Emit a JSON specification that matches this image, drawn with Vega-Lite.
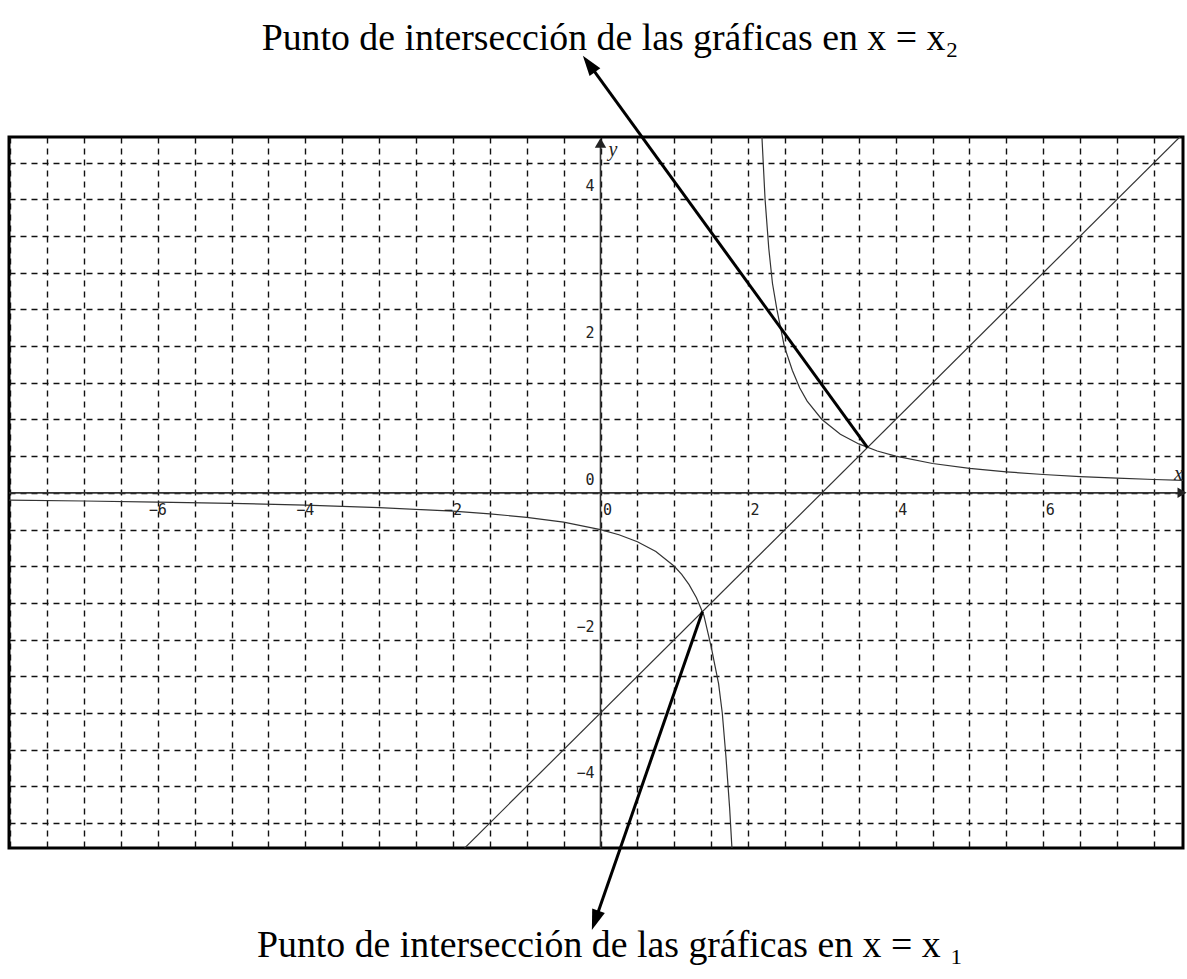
{
  "$schema": "https://vega.github.io/schema/vega-lite/v6.json",
  "width": 1174,
  "height": 711,
  "autosize": {"type": "none"},
  "padding": {"left": 9, "top": 137, "right": 4, "bottom": 131},
  "background": "white",
  "config": {"view": {"stroke": "black", "strokeWidth": 3}},
  "datasets": {
    "line": [{"x": -1.85, "y": -4.85}, {"x": 7.9, "y": 4.9}],
    "hyp": [
      {"branch": "L", "x": -8.02, "y": -0.0998},
      {"branch": "L", "x": -7, "y": -0.111},
      {"branch": "L", "x": -6, "y": -0.125},
      {"branch": "L", "x": -5, "y": -0.143},
      {"branch": "L", "x": -4, "y": -0.167},
      {"branch": "L", "x": -3, "y": -0.2},
      {"branch": "L", "x": -2, "y": -0.25},
      {"branch": "L", "x": -1.5, "y": -0.286},
      {"branch": "L", "x": -1, "y": -0.333},
      {"branch": "L", "x": -0.5, "y": -0.4},
      {"branch": "L", "x": 0, "y": -0.5},
      {"branch": "L", "x": 0.25, "y": -0.571},
      {"branch": "L", "x": 0.5, "y": -0.667},
      {"branch": "L", "x": 0.75, "y": -0.8},
      {"branch": "L", "x": 1, "y": -1},
      {"branch": "L", "x": 1.1, "y": -1.111},
      {"branch": "L", "x": 1.2, "y": -1.25},
      {"branch": "L", "x": 1.3, "y": -1.429},
      {"branch": "L", "x": 1.4, "y": -1.667},
      {"branch": "L", "x": 1.5, "y": -2.1},
      {"branch": "L", "x": 1.55, "y": -2.35},
      {"branch": "L", "x": 1.6, "y": -2.6},
      {"branch": "L", "x": 1.65, "y": -3.0},
      {"branch": "L", "x": 1.7, "y": -3.6},
      {"branch": "L", "x": 1.75, "y": -4.3},
      {"branch": "L", "x": 1.79, "y": -5.0},
      {"branch": "R", "x": 2.18, "y": 5},
      {"branch": "R", "x": 2.23, "y": 4},
      {"branch": "R", "x": 2.28, "y": 3.333},
      {"branch": "R", "x": 2.33, "y": 2.857},
      {"branch": "R", "x": 2.39, "y": 2.5},
      {"branch": "R", "x": 2.49, "y": 2},
      {"branch": "R", "x": 2.6, "y": 1.667},
      {"branch": "R", "x": 2.7, "y": 1.429},
      {"branch": "R", "x": 2.8, "y": 1.25},
      {"branch": "R", "x": 3, "y": 1},
      {"branch": "R", "x": 3.25, "y": 0.8},
      {"branch": "R", "x": 3.5, "y": 0.667},
      {"branch": "R", "x": 3.75, "y": 0.571},
      {"branch": "R", "x": 4, "y": 0.5},
      {"branch": "R", "x": 4.5, "y": 0.4},
      {"branch": "R", "x": 5, "y": 0.333},
      {"branch": "R", "x": 5.5, "y": 0.286},
      {"branch": "R", "x": 6, "y": 0.25},
      {"branch": "R", "x": 6.5, "y": 0.222},
      {"branch": "R", "x": 7, "y": 0.2},
      {"branch": "R", "x": 7.5, "y": 0.182},
      {"branch": "R", "x": 7.95, "y": 0.168}
    ],
    "xaxis": [{"x": -8.015, "x2": 7.86, "y": 0}],
    "yaxis": [{"x": 0, "y": -4.84, "y2": 4.76}],
    "xhead": [{"x": 7.88, "y": 0}],
    "yhead": [{"x": 0, "y": 4.77}],
    "xlabels": [
      {"x": -6, "y": 0, "label": "−6"},
      {"x": -4, "y": 0, "label": "−4"},
      {"x": -2, "y": 0, "label": "−2"},
      {"x": 0, "y": 0, "label": "0"},
      {"x": 2, "y": 0, "label": "2"},
      {"x": 4, "y": 0, "label": "4"},
      {"x": 6, "y": 0, "label": "6"}
    ],
    "ylabels": [
      {"x": 0, "y": -4, "label": "−4"},
      {"x": 0, "y": -2, "label": "−2"},
      {"x": 0, "y": 0, "label": "0"},
      {"x": 0, "y": 2, "label": "2"},
      {"x": 0, "y": 4, "label": "4"}
    ],
    "names": [
      {"x": 7.83, "y": 0.26, "label": "x"},
      {"x": 0.17, "y": 4.67, "label": "y"}
    ],
    "arrows": [
      {"x": 3.618, "y": 0.618, "x2": -0.157, "y2": 5.846},
      {"x": 1.382, "y": -1.618, "x2": -0.072, "y2": -5.827}
    ],
    "headTop": [{"x": -0.157, "y": 5.846}],
    "headBottom": [{"x": -0.072, "y": -5.827}],
    "titles": [
      {"x": 0.13, "y": 6.03, "label": "Punto de intersección de las gráficas en x = x₂"},
      {"x": 0.13, "y": -6.32, "label": "Punto de intersección de las gráficas en x = x ₁"}
    ]
  },
  "encoding": {
    "x": {
      "field": "x", "type": "quantitative",
      "scale": {"domain": [-8.015, 7.893], "nice": false, "zero": false},
      "axis": {
        "values": [-8, -7.5, -7, -6.5, -6, -5.5, -5, -4.5, -4, -3.5, -3, -2.5, -2, -1.5, -1, -0.5, 0, 0.5, 1, 1.5, 2, 2.5, 3, 3.5, 4, 4.5, 5, 5.5, 6, 6.5, 7, 7.5],
        "grid": true, "gridDash": [6, 5], "gridColor": "#111", "gridWidth": 1.4, "gridOpacity": 1,
        "labels": false, "ticks": false, "domain": false, "title": null
      }
    },
    "y": {
      "field": "y", "type": "quantitative",
      "scale": {"domain": [-4.84, 4.85], "nice": false, "zero": false},
      "axis": {
        "values": [-4.5, -4, -3.5, -3, -2.5, -2, -1.5, -1, -0.5, 0, 0.5, 1, 1.5, 2, 2.5, 3, 3.5, 4, 4.5],
        "grid": true, "gridDash": [6, 5], "gridColor": "#111", "gridWidth": 1.4, "gridOpacity": 1,
        "labels": false, "ticks": false, "domain": false, "title": null
      }
    }
  },
  "layer": [
    {"data": {"name": "line"}, "mark": {"type": "line", "clip": true, "color": "#333", "strokeWidth": 1.2}},
    {"data": {"name": "hyp"}, "mark": {"type": "line", "clip": true, "color": "#333", "strokeWidth": 1.2}, "encoding": {"detail": {"field": "branch"}}},
    {"data": {"name": "xaxis"}, "mark": {"type": "rule", "color": "#333", "strokeWidth": 1.6}, "encoding": {"x2": {"field": "x2"}}},
    {"data": {"name": "yaxis"}, "mark": {"type": "rule", "color": "#333", "strokeWidth": 1.6}, "encoding": {"y2": {"field": "y2"}}},
    {"data": {"name": "xhead"}, "mark": {"type": "point", "shape": "triangle-right", "filled": true, "color": "#222", "opacity": 1, "size": 110}},
    {"data": {"name": "yhead"}, "mark": {"type": "point", "shape": "triangle-up", "filled": true, "color": "#222", "opacity": 1, "size": 130}},
    {"data": {"name": "xlabels"}, "transform": [{"filter": "datum.x < 0"}], "mark": {"type": "text", "align": "center", "baseline": "middle", "dy": 17, "font": "DejaVu Sans Mono", "fontSize": 15, "color": "#222"}, "encoding": {"text": {"field": "label"}}},
    {"data": {"name": "xlabels"}, "transform": [{"filter": "datum.x >= 0"}], "mark": {"type": "text", "align": "center", "baseline": "middle", "dx": 7, "dy": 17, "font": "DejaVu Sans Mono", "fontSize": 15, "color": "#222"}, "encoding": {"text": {"field": "label"}}},
    {"data": {"name": "ylabels"}, "mark": {"type": "text", "align": "right", "baseline": "middle", "dx": -6, "dy": -13, "font": "DejaVu Sans Mono", "fontSize": 15, "color": "#222"}, "encoding": {"text": {"field": "label"}}},
    {"data": {"name": "names"}, "mark": {"type": "text", "align": "center", "baseline": "middle", "font": "Liberation Serif", "fontStyle": "italic", "fontSize": 20, "color": "#222"}, "encoding": {"text": {"field": "label"}}},
    {"data": {"name": "arrows"}, "mark": {"type": "rule", "color": "black", "strokeWidth": 3}, "encoding": {"x2": {"field": "x2"}, "y2": {"field": "y2"}}},
    {"data": {"name": "headTop"}, "mark": {"type": "point", "shape": "M0,-1L0.65,1L-0.65,1Z", "filled": true, "color": "black", "opacity": 1, "size": 420, "angle": 323.9}},
    {"data": {"name": "headBottom"}, "mark": {"type": "point", "shape": "M0,-1L0.65,1L-0.65,1Z", "filled": true, "color": "black", "opacity": 1, "size": 420, "angle": 198.9}},
    {"data": {"name": "titles"}, "mark": {"type": "text", "align": "center", "baseline": "alphabetic", "font": "Liberation Serif", "fontSize": 37.8, "color": "black"}, "encoding": {"text": {"field": "label"}}}
  ]
}
